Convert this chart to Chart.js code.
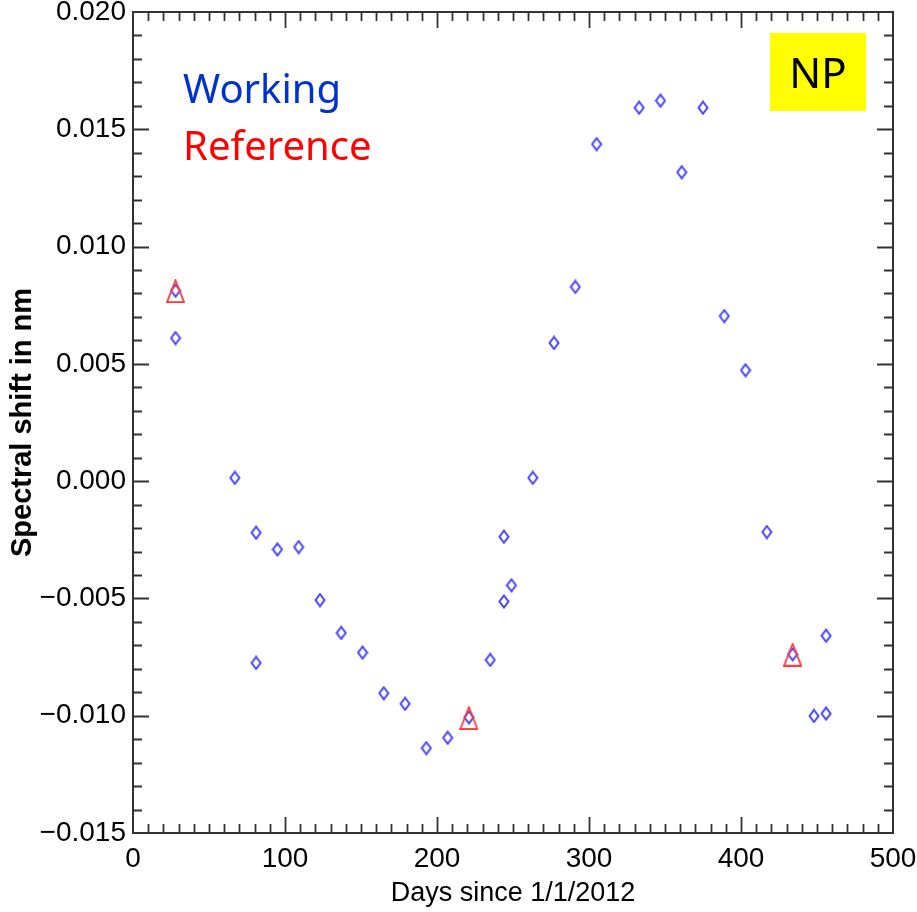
<!DOCTYPE html>
<html>
<head>
<meta charset="utf-8">
<script src="https://cdn.jsdelivr.net/npm/chart.js@4/dist/chart.umd.min.js"></script>
<style>
  body { margin: 0; background: #fff; }
  #shiftChart { display: block; }
</style>
</head>
<body>
<canvas id="shiftChart" width="917" height="912"></canvas>
<script>
// days since 1/1/2012 and spectral shift (nm), NP working measurements
const workingDays = [28, 28, 67, 81, 81, 95, 109, 123, 137, 151, 165, 179, 193, 207, 221, 235, 244, 244, 249,
  263, 277, 291, 305, 333, 347, 361, 375, 389, 403, 417, 434, 448, 456, 456];
const workingShift = [0.00812, 0.00610, 0.00014, -0.00220, -0.00775, -0.00291, -0.00281, -0.00507, -0.00647,
  -0.00731, -0.00904, -0.00949, -0.01138, -0.01094, -0.01007, -0.00762, -0.00237, -0.00513, -0.00444,
  0.00014, 0.00589, 0.00828, 0.01437, 0.01592, 0.01622, 0.01317, 0.01592, 0.00704, 0.00473, -0.00217,
  -0.00738, -0.01001, -0.00991, -0.00659];

// reference measurements
const referenceDays = [28, 221, 434];
const referenceShift = [0.0081, -0.0101, -0.0074];

// axis ranges
const xRange = [0, 500];
const yRange = [-0.015, 0.020];
const xMajor = 100, xMinor = 10;
const yMajor = 0.005, yMinor = 0.001;

const tickFont = { family: "'Liberation Sans', Arial, sans-serif", size: 28 };
const axisColor = '#333';

function glyph(w, h, color, lw, path) {
  const c = document.createElement('canvas');
  c.width = w; c.height = h;
  const g = c.getContext('2d');
  g.strokeStyle = color;
  g.lineWidth = lw;
  g.lineJoin = 'miter';
  g.beginPath();
  path(g, w, h);
  g.closePath();
  g.stroke();
  return c;
}

// open diamond, a bit taller than wide
const diamond = glyph(12, 15, '#4444ff', 2, (g, w, h) => {
  g.moveTo(w / 2, 1.5); g.lineTo(w - 1.5, h / 2); g.lineTo(w / 2, h - 1.5); g.lineTo(1.5, h / 2);
});
// open triangle, taller than equilateral
const triangle = glyph(19, 24, '#ff3b3b', 1.8, (g, w, h) => {
  g.moveTo(w / 2, 1); g.lineTo(w - 1, h - 1); g.lineTo(1, h - 1);
});

function pts(xs, ys) {
  return xs.map((x, i) => ({ x: x, y: ys[i] }));
}

function fmtY(v) {
  const s = Math.abs(v).toFixed(3);
  return v < -1e-9 ? '\u2212' + s : s;
}

// frame with inward major/minor ticks on all four sides, plus the text boxes
const framePlugin = {
  id: 'frame',
  afterDatasetsDraw(chart) {
    const { ctx, chartArea: a, scales } = chart;
    const xs = scales.x, ys = scales.y;
    ctx.save();
    ctx.strokeStyle = axisColor;
    ctx.lineWidth = 2;
    ctx.strokeRect(a.left, a.top, a.right - a.left, a.bottom - a.top);

    ctx.lineWidth = 1.8;
    ctx.beginPath();
    const nx = Math.round((xRange[1] - xRange[0]) / xMinor);
    for (let i = 1; i < nx; i++) {
      const v = xRange[0] + i * xMinor;
      const len = (i % Math.round(xMajor / xMinor) === 0) ? 16 : 9;
      const px = Math.round(xs.getPixelForValue(v)) + 0.5;
      ctx.moveTo(px, a.bottom); ctx.lineTo(px, a.bottom - len);
      ctx.moveTo(px, a.top); ctx.lineTo(px, a.top + len);
    }
    const ny = Math.round((yRange[1] - yRange[0]) / yMinor);
    for (let i = 1; i < ny; i++) {
      const v = yRange[0] + i * yMinor;
      const len = (i % Math.round(yMajor / yMinor) === 0) ? 16 : 9;
      const py = Math.round(ys.getPixelForValue(v)) + 0.5;
      ctx.moveTo(a.left, py); ctx.lineTo(a.left + len, py);
      ctx.moveTo(a.right, py); ctx.lineTo(a.right - len, py);
    }
    ctx.stroke();

    // series labels
    ctx.textBaseline = 'alphabetic';
    ctx.textAlign = 'left';
    ctx.font = "40px 'Noto Sans', sans-serif";
    ctx.fillStyle = '#0033cc';
    ctx.fillText('Working', a.left + 50, a.top + 91);
    ctx.fillStyle = '#ff0000';
    ctx.fillText('Reference', a.left + 50, a.top + 148);

    // NP tag
    const bx = a.right - 123, by = a.top + 21;
    ctx.fillStyle = '#ffff00';
    ctx.fillRect(bx, by, 96, 78);
    ctx.fillStyle = '#000';
    ctx.textAlign = 'center';
    ctx.font = "42px 'Noto Sans', sans-serif";
    ctx.fillText('NP', bx + 48, by + 55);
    ctx.restore();
  }
};

const ctx = document.getElementById('shiftChart').getContext('2d');
const shiftChart = new Chart(ctx, {
  type: 'scatter',
  data: {
    datasets: [{
      label: 'Reference',
      data: pts(referenceDays, referenceShift),
      pointStyle: triangle,
      pointRadius: 10,
      pointHoverRadius: 10
    }, {
      label: 'Working',
      data: pts(workingDays, workingShift),
      pointStyle: diamond,
      pointRadius: 6,
      pointHoverRadius: 6
    }]
  },
  options: {
    responsive: false,
    animation: false,
    layout: { padding: { left: 0, top: 12, right: 24, bottom: 0 } },
    plugins: {
      legend: { display: false },
      tooltip: { enabled: false }
    },
    scales: {
      x: {
        type: 'linear',
        min: xRange[0],
        max: xRange[1],
        grid: { display: false, drawTicks: false },
        border: { display: false },
        ticks: { stepSize: xMajor, color: '#000', font: tickFont, padding: 9, maxRotation: 0 },
        title: {
          display: true,
          text: 'Days since 1/1/2012',
          color: '#000',
          font: { family: "'Liberation Sans', Arial, sans-serif", size: 27 },
          padding: { top: 0, bottom: 2 }
        },
        afterFit(scale) {
          scale.height = 79;
          scale.paddingLeft = 0;
          scale.paddingRight = 0;
        }
      },
      y: {
        type: 'linear',
        min: yRange[0],
        max: yRange[1],
        grid: { display: false, drawTicks: false },
        border: { display: false },
        ticks: { stepSize: yMajor, color: '#000', font: tickFont, padding: 7, callback: fmtY },
        title: {
          display: true,
          text: 'Spectral shift in nm',
          color: '#000',
          font: { family: "'Liberation Sans', Arial, sans-serif", size: 29, weight: 'bold' },
          padding: { top: 6, bottom: 0 }
        },
        afterFit(scale) {
          scale.width = 133;
          scale.paddingTop = 0;
          scale.paddingBottom = 0;
        }
      }
    }
  },
  plugins: [framePlugin]
});
</script>
</body>
</html>
